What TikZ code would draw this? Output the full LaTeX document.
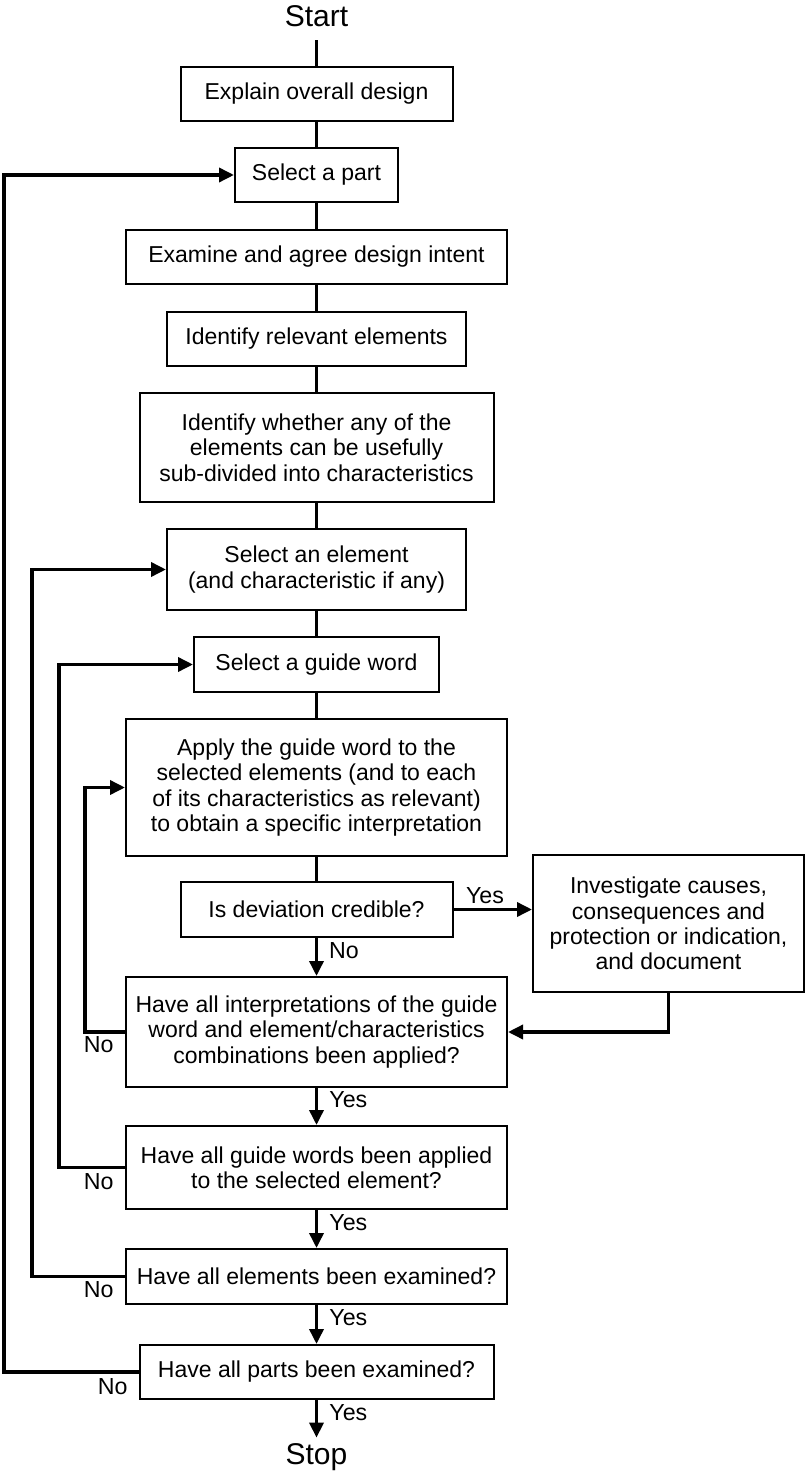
\documentclass[tikz,border=0pt]{standalone}
\usepackage{fontspec}
\setmainfont{Liberation Sans}
\usetikzlibrary{arrows.meta}

\tikzset{
  stepbox/.style={draw=black, line width=1pt, align=center, inner sep=2pt,
    font=\fontsize{11.5pt}{12.7pt}\selectfont},
  terminal/.style={inner sep=0pt, font=\fontsize{15pt}{18pt}\selectfont},
  conn/.style={line width=1.75pt},
  arr/.style={conn, -{Triangle[length=7.5pt,width=7pt]}},
  lbl/.style={inner sep=0pt, font=\fontsize{11.6pt}{13pt}\selectfont},
}

\begin{document}
\begin{tikzpicture}[x=0.5pt, y=-0.5pt]
\useasboundingbox (0,0) rectangle (805,1475);

% main column
\node[terminal, minimum height=24pt] (start) at (316.5,16) {Start};
\node[stepbox, minimum width=136pt,   minimum height=27pt]   (b1)  at (316.5,94)    {Explain overall design};
\node[stepbox, minimum width=81.5pt,  minimum height=27pt]   (b2)  at (316.5,175)   {Select a part};
\node[stepbox, minimum width=190.5pt, minimum height=27pt]   (b3)  at (316.5,257)   {Examine and agree design intent};
\node[stepbox, minimum width=149.5pt, minimum height=27pt]   (b4)  at (316.5,339)   {Identify relevant elements};
\node[stepbox, minimum width=177pt,   minimum height=54.5pt] (b5)  at (316.5,447.5) {Identify whether any of the\\elements can be usefully\\sub-divided into characteristics};
\node[stepbox, minimum width=149.5pt, minimum height=40.5pt] (b6)  at (316.5,569.5) {Select an element\\(and characteristic if any)};
\node[stepbox, minimum width=122.5pt, minimum height=27.5pt] (b7)  at (316.5,664.5) {Select a guide word};
\node[stepbox, minimum width=190.5pt, minimum height=68.5pt] (b8)  at (316.5,787.5) {Apply the guide word to the\\selected elements (and to each\\of its characteristics as relevant)\\to obtain a specific interpretation};
\node[stepbox, minimum width=136pt,   minimum height=27.5pt] (b9)  at (316.5,909.5) {Is deviation credible?};
\node[stepbox, minimum width=135.5pt, minimum height=68.5pt] (b10) at (668.5,923.5) {Investigate causes,\\consequences and\\protection or indication,\\and document};
\node[stepbox, minimum width=190.5pt, minimum height=55pt]   (b11) at (316.5,1032)  {Have all interpretations of the guide\\word and element/characteristics\\combinations been applied?};
\node[stepbox, minimum width=190.5pt, minimum height=41.5pt] (b12) at (316.5,1167.5){Have all guide words been applied\\to the selected element?};
\node[stepbox, minimum width=190.5pt, minimum height=27.5pt] (b13) at (316.5,1276.5){Have all elements been examined?};
\node[stepbox, minimum width=177pt,   minimum height=27pt]   (b14) at (316.5,1372)  {Have all parts been examined?};
\node[terminal, minimum height=19pt] (stop) at (316.5,1457) {Stop};

% columns of the return loops
\coordinate (c1) at (4,0);
\coordinate (c2) at (32,0);
\coordinate (c3) at (59,0);
\coordinate (c4) at (85,0);

% straight links
\draw[conn] (start) -- (b1);
\draw[conn] (b1) -- (b2);
\draw[conn] (b2) -- (b3);
\draw[conn] (b3) -- (b4);
\draw[conn] (b4) -- (b5);
\draw[conn] (b5) -- (b6);
\draw[conn] (b6) -- (b7);
\draw[conn] (b7) -- (b8);
\draw[conn] (b8) -- (b9);
\draw[arr] (b9) -- (b11);
\draw[arr] (b11) -- (b12);
\draw[arr] (b12) -- (b13);
\draw[arr] (b13) -- (b14);
\draw[arr] (b14) -- (stop);

% side branch
\draw[arr] (b9.east) -- (b9.east -| b10.west);
\draw[arr] (b10.south) |- (b11.east);

% return loops
\draw[arr] (b11.west) -- (b11.west -| c4) |- (b8.west);
\draw[arr] (b12.west) -- (b12.west -| c3) |- (b7.west);
\draw[arr] (b13.west) -- (b13.west -| c2) |- (b6.west);
\draw[arr] (b14.west) -- (b14.west -| c1) |- (b2.west);

% branch labels
\node[lbl] at (485,896)  {Yes};
\node[lbl] at (344,951)  {No};
\node[lbl, anchor=west] at (329,1100) {Yes};
\node[lbl, anchor=west] at (329,1223) {Yes};
\node[lbl, anchor=west] at (329,1318) {Yes};
\node[lbl, anchor=west] at (329,1413) {Yes};
\node[lbl, anchor=east] at (114,1045) {No};
\node[lbl, anchor=east] at (114,1182) {No};
\node[lbl, anchor=east] at (114,1290) {No};
\node[lbl, anchor=east] at (128,1387) {No};
\end{tikzpicture}
\end{document}
